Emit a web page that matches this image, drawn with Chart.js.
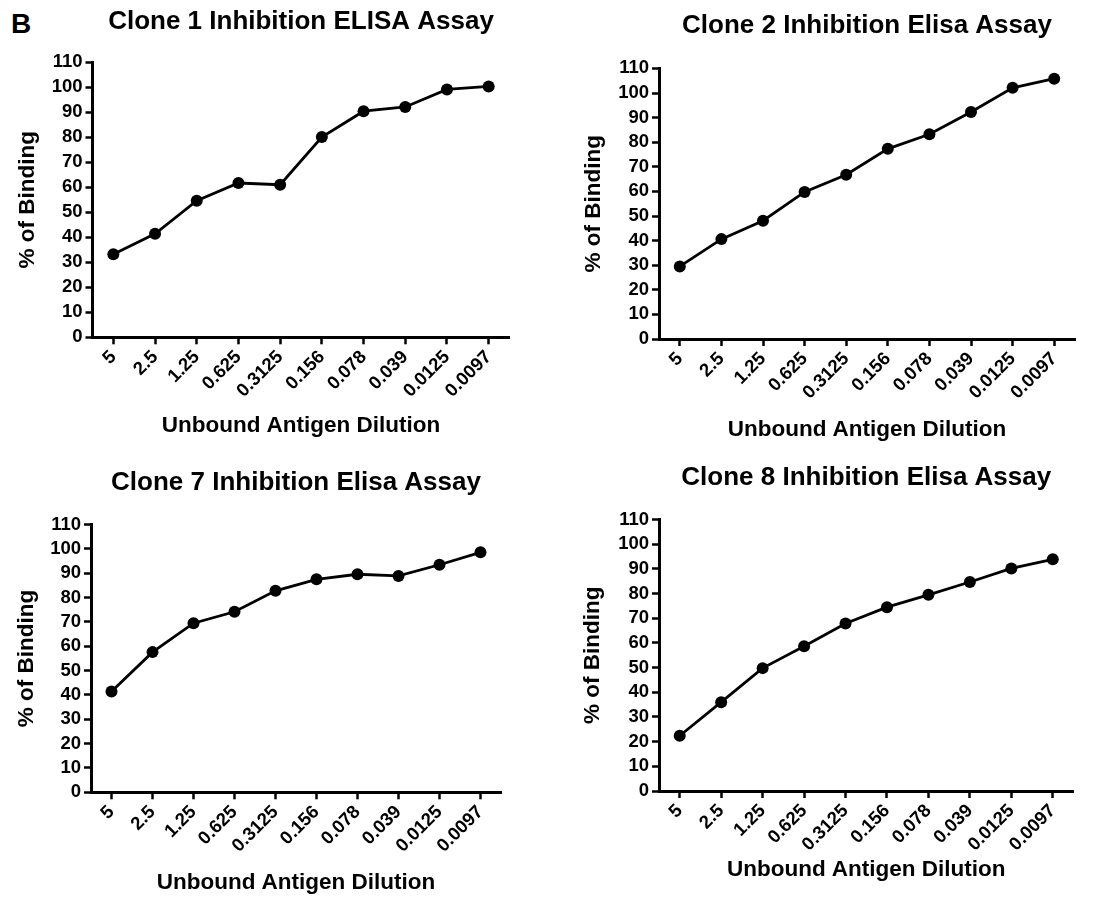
<!DOCTYPE html>
<html>
<head>
<meta charset="utf-8">
<script src="https://cdn.jsdelivr.net/npm/chart.js@4.4.1/dist/chart.umd.min.js"></script>
<style>
  html, body { margin: 0; padding: 0; background: #fff; }
  #wrap { position: relative; width: 1094px; height: 899px; overflow: hidden; }
  canvas { position: absolute; }
  #panelLetter {
    position: absolute; left: 11px; top: 8px;
    font: bold 28px "Liberation Sans", Arial, sans-serif; color: #000;
  }
</style>
</head>
<body>
<div id="wrap">
  <div id="panelLetter">B</div>
  <canvas id="c1" width="547" height="450" style="left:0;top:0"></canvas>
  <canvas id="c2" width="547" height="450" style="left:547px;top:0"></canvas>
  <canvas id="c3" width="547" height="449" style="left:0;top:450px"></canvas>
  <canvas id="c4" width="547" height="449" style="left:547px;top:450px"></canvas>
</div>
<script>
// dilution categories along the x axis
const dilutions = ['5', '2.5', '1.25', '0.625', '0.3125', '0.156', '0.078', '0.039', '0.0125', '0.0097']

// % of binding
const clone1Binding = [33.2, 41.4, 54.6, 61.7, 61.0, 80.1, 90.4, 92.1, 99.1, 100.3]
const clone2Binding = [29.5, 40.6, 48.1, 59.8, 66.8, 77.3, 83.2, 92.3, 102.1, 105.8]
const clone7Binding = [41.4, 57.6, 69.5, 74.2, 82.8, 87.5, 89.6, 88.9, 93.5, 98.6]
const clone8Binding = [22.4, 36.0, 49.8, 58.7, 67.9, 74.5, 79.5, 84.7, 90.2, 93.9]

const panelTitles = [
  'Clone 1 Inhibition ELISA Assay',
  'Clone 2 Inhibition Elisa Assay',
  'Clone 7 Inhibition Elisa Assay',
  'Clone 8 Inhibition Elisa Assay'
]
const yMin = 0
const yMax = 110
const yStep = 10
const xTitle = 'Unbound Antigen Dilution'
const yTitle = '% of Binding'

Chart.defaults.font.family = '"Liberation Sans", Arial, sans-serif'
Chart.defaults.color = '#000'

// layout tweaks per panel (pixels inside each canvas)
const layouts = [
  { yW: 92.5, padR: 37.5, xH: 112.7, tTop: 6, tBot: 25, xtPad: 10.5, ytPad: 14.3 },
  { yW: 112, padR: 19, xH: 111, tTop: 10.2, tBot: 27, xtPad: 6.5, ytPad: 33.5 },
  { yW: 91, padR: 46, xH: 106.7, tTop: 17.4, tBot: 26, xtPad: 2.8, ytPad: 12.8 },
  { yW: 112, padR: 20.5, xH: 108, tTop: 12.4, tBot: 26, xtPad: 15.5, ytPad: 32.6 }
]

function makeChart(id, title, values, lay) {
  const ctx = document.getElementById(id).getContext('2d')
  return new Chart(ctx, {
    type: 'line',
    data: {
      labels: dilutions,
      datasets: [{
        data: values,
        borderColor: '#000',
        borderWidth: 2.8,
        backgroundColor: '#000',
        pointRadius: 6,
        pointBorderWidth: 0,
        pointBackgroundColor: '#000',
        tension: 0,
        fill: false
      }]
    },
    options: {
      responsive: false,
      animation: false,
      layout: { padding: { left: 0, right: lay.padR, top: 0, bottom: 0 } },
      plugins: {
        legend: { display: false },
        tooltip: { enabled: false },
        title: {
          display: true,
          text: title,
          fullSize: false,
          color: '#000',
          font: { size: 26, weight: 'bold' },
          padding: { top: lay.tTop, bottom: lay.tBot }
        }
      },
      scales: {
        x: {
          type: 'category',
          offset: true,
          grid: {
            display: true,
            drawOnChartArea: false,
            drawTicks: true,
            tickLength: 7,
            tickWidth: 2.5,
            tickColor: '#000',
            offset: false
          },
          border: { display: true, color: '#000', width: 3 },
          ticks: {
            autoSkip: false,
            minRotation: 45,
            maxRotation: 45,
            padding: 2,
            color: '#000',
            font: { size: 18.5, weight: 'bold' }
          },
          title: {
            display: true,
            text: xTitle,
            color: '#000',
            font: { size: 22.5, weight: 'bold' },
            padding: { top: 0, bottom: lay.xtPad }
          },
          afterFit: (s) => { s.height = lay.xH }
        },
        y: {
          min: yMin,
          max: yMax,
          grid: {
            display: true,
            drawOnChartArea: false,
            drawTicks: true,
            tickLength: 7,
            tickWidth: 2.5,
            tickColor: '#000'
          },
          border: { display: true, color: '#000', width: 3 },
          ticks: {
            stepSize: yStep,
            autoSkip: false,
            padding: 3,
            color: '#000',
            font: { size: 18.5, weight: 'bold' }
          },
          title: {
            display: true,
            text: yTitle,
            color: '#000',
            font: { size: 22.5, weight: 'bold' },
            padding: { top: lay.ytPad, bottom: 0 }
          },
          afterFit: (s) => { s.width = lay.yW }
        }
      }
    }
  })
}

makeChart('c1', panelTitles[0], clone1Binding, layouts[0])
makeChart('c2', panelTitles[1], clone2Binding, layouts[1])
makeChart('c3', panelTitles[2], clone7Binding, layouts[2])
makeChart('c4', panelTitles[3], clone8Binding, layouts[3])
</script>
</body>
</html>
